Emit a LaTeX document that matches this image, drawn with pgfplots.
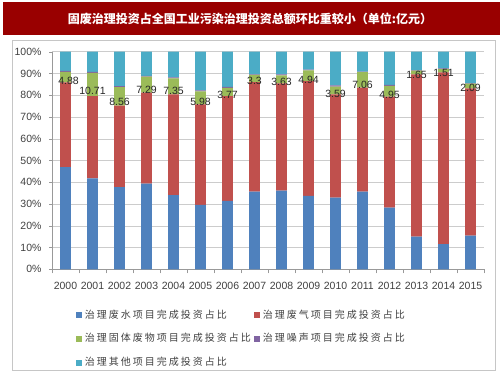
\documentclass[border=0pt]{standalone}
\usepackage{fontspec}
\setmainfont{Liberation Sans}
\newfontfamily\cjk{Noto Sans CJK SC}
\newfontfamily\cjkls[LetterSpace=20]{Noto Sans CJK SC}
\usepackage{pgfplots}
\usepackage{pgfplotstable}
\pgfplotsset{compat=1.18}
\definecolor{cBlue}{HTML}{4F81BD}
\definecolor{cRed}{HTML}{C0504D}
\definecolor{cGreen}{HTML}{9BBB59}
\definecolor{cPurple}{HTML}{8064A2}
\definecolor{cCyan}{HTML}{4BACC6}
\definecolor{cTitle}{HTML}{990000}
\definecolor{cText}{HTML}{404040}
\pgfplotstableread{
x blue red green purple cyan dx
0 47.0 38.9 4.88 0.4 8.82 6
1 41.8 37.8 10.71 0.4 9.29 0
2 37.8 37.4 8.56 0.4 15.84 0
3 39.4 41.8 7.29 0.4 11.11 0
4 34.1 46.3 7.35 0.4 11.85 0
5 29.6 46.2 5.98 0.5 17.72 0
6 31.5 48.1 3.77 0.5 16.13 0
7 35.7 50.3 3.3 0.3 10.4 0
8 36.1 49.4 3.63 0.4 10.47 0
9 33.7 52.8 4.94 0.3 8.26 0
10 32.9 47.5 3.59 0.5 15.51 0
11 35.7 47.8 7.06 0.3 9.14 0
12 28.3 51.0 4.95 0.5 15.25 0
13 15.0 74.6 1.65 0.3 8.45 0
14 11.6 78.9 1.51 0.3 7.69 0
15 15.5 67.7 2.09 0.3 14.41 0
}\datatable
\begin{document}
\begin{tikzpicture}
\useasboundingbox (0,0) rectangle (503pt,378pt);
\draw[gray!45] (12pt,8pt) rectangle (495pt,338pt);
\fill[cTitle] (3pt,343pt) rectangle (500pt,376pt);
\node[text=white, font=\cjk\bfseries\fontsize{12}{14}\selectfont] at (250pt,359.5pt) {固废治理投资占全国工业污染治理投资总额环比重较小（单位:亿元）};
\begin{axis}[
  at={(52pt,108.7pt)}, anchor=south west, scale only axis,
  width=432pt, height=217.6pt,
  ybar stacked, bar width=10.7pt,
  xmin=-0.5, xmax=15.5, ymin=0, ymax=100,
  axis x line*=bottom, axis y line*=left,
  axis line style={draw=gray!80},
  xtick={0,...,15},
  xticklabels={2000,2001,2002,2003,2004,2005,2006,2007,2008,2009,2010,2011,2012,2013,2014,2015},
  minor xtick={-0.5,0.5,...,15.5},
  tick align=outside,
  xtick style={draw=none},
  minor x tick style={draw=gray!80},
  minor tick length=4pt,
  ytick={0,10,...,100},
  ytick style={draw=gray!80},
  major tick length=3pt,
  yticklabel={\pgfmathprintnumber{\tick}\%},
  /pgf/number format/assume math mode=true,
  ticklabel style={font=\fontsize{10.5}{12}\selectfont, text=cText},
  xticklabel style={yshift=-6pt},
  yticklabel style={xshift=-4pt},
  ymajorgrids, grid style={draw=gray!40},
  legend columns=2,
  legend cell align=left,
  legend image code/.code={\fill[#1,draw=none] (0pt,-3pt) rectangle (6pt,3pt);},
  legend style={draw=none, fill=none, inner sep=0pt,
    at={(axis description cs:0.055,-0.182)}, anchor=north west,
    font=\cjkls\fontsize{10}{12}\selectfont, text=cText,
    nodes={inner sep=1pt, text height=8pt, text depth=2pt},
    column sep=2pt, row sep=11.8pt},
]
\addplot[fill=cBlue, draw=none] table[x=x, y=blue] {\datatable};
\addlegendentry{治理废水项目完成投资占比}
\addplot[fill=cRed, draw=none] table[x=x, y=red] {\datatable};
\addlegendentry{治理废气项目完成投资占比}
\addplot[fill=cGreen, draw=none,
  nodes near coords={\pgfmathprintnumber[fixed,precision=2]{\pgfplotspointmeta}},
  point meta=explicit,
  visualization depends on={\thisrow{green} \as \gv},
  visualization depends on={\thisrow{dx} \as \dx},
  every node near coord/.append style={anchor=center, inner sep=0pt,
     yshift={-0.544pt*\gv-1pt}, xshift={0.5pt*\dx},
     font=\fontsize{10.5}{12}\selectfont, text=black!85}
  ] table[x=x, y=green, meta=green] {\datatable};
\addlegendentry{治理固体废物项目完成投资占比}
\addplot[fill=cPurple, draw=none] table[x=x, y=purple] {\datatable};
\addlegendentry{治理噪声项目完成投资占比}
\addplot[fill=cCyan, draw=none] table[x=x, y=cyan] {\datatable};
\addlegendentry{治理其他项目完成投资占比}
\end{axis}
\end{tikzpicture}
\end{document}
